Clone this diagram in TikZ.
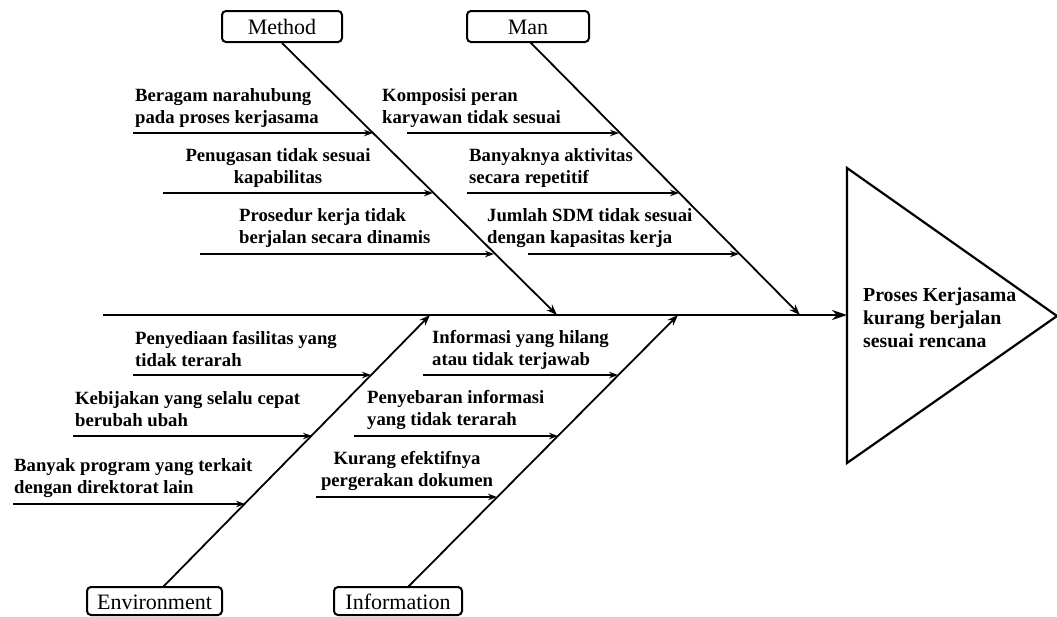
\documentclass[tikz,border=0pt]{standalone}
\usepackage{fontspec}
\setmainfont{Liberation Serif}
\usetikzlibrary{arrows.meta}
\begin{document}
\begin{tikzpicture}[x=1pt,y=-1pt,
  catbox/.style={draw,line width=2pt,rounded corners=4pt,inner sep=0pt,text height=16.5pt,text depth=0pt,font=\fontsize{22}{24}\selectfont},
  cause/.style={inner sep=0pt,font=\fontsize{18.7}{22}\selectfont\bfseries},
  bone/.style={line width=1.8pt,-{Stealth[length=11pt,width=8pt]}},
  twig/.style={line width=1.3pt,-{Stealth[length=9pt,width=6.5pt]}},
  spine/.style={line width=2.8pt,-{Stealth[length=15pt,width=10pt]}}]
\useasboundingbox (0,0) rectangle (1057,616);
% category boxes
\node[catbox,minimum width=120pt,minimum height=31pt] (method) at (282,26.5) {Method};
\node[catbox,minimum width=122pt,minimum height=31pt] (man) at (528,26.5) {Man};
\node[catbox,minimum width=135pt,minimum height=28pt] (env) at (154.5,601) {Environment};
\node[catbox,minimum width=128pt,minimum height=28pt] (info) at (398,601) {Information};
% effect triangle
\coordinate (tl) at (847,168);
\coordinate (tb) at (847,463);
\coordinate (tw) at (847,315);
\coordinate (ta) at (1057,316);
\draw[line width=2.2pt,line join=miter] (tl) -- (ta) -- (tb) -- cycle;
\node[cause,anchor=west,align=left,font=\fontsize{19.8}{23}\selectfont\bfseries] (effect) at (863,318)
  {Proses Kerjasama\\kurang berjalan\\sesuai rencana};
% spine
\coordinate (tail) at (103,315);
\draw[spine] (tail) -- (tw);
% spine junctions
\coordinate (jm) at (557,315);
\coordinate (jn) at (800,315);
\coordinate (je) at (430,315);
\coordinate (ji) at (678,315);
\coordinate (mantop) at (530,42);
\coordinate (envtop) at (163,587);
\coordinate (infotop) at (408,587);
\draw[bone] (method.south) -- (jm);
\draw[bone] (mantop) -- (jn);
\draw[bone] (envtop) -- (je);
\draw[bone] (infotop) -- (ji);
% Method causes
\node[cause,anchor=west,align=left] (m1) at (135,108) {Beragam narahubung\\pada proses kerjasama};
\node[cause,align=center] (m2) at (278,168) {Penugasan tidak sesuai\\kapabilitas};
\node[cause,anchor=west,align=left] (m3) at (239,228) {Prosedur kerja tidak\\berjalan secara dinamis};
\coordinate (m1s) at (133,133); \coordinate (m1e) at (373,133);
\coordinate (m2s) at (163,193); \coordinate (m2e) at (433,193);
\coordinate (m3s) at (200,254); \coordinate (m3e) at (494,254);
\draw[twig] (m1s) -- (m1e);
\draw[twig] (m2s) -- (m2e);
\draw[twig] (m3s) -- (m3e);
% Man causes
\node[cause,anchor=west,align=left] (n1) at (382,108) {Komposisi peran\\karyawan tidak sesuai};
\node[cause,anchor=west,align=left] (n2) at (469,168) {Banyaknya aktivitas\\secara repetitif};
\node[cause,anchor=west,align=left] (n3) at (487,228) {Jumlah SDM tidak sesuai\\dengan kapasitas kerja};
\coordinate (n1s) at (407,133); \coordinate (n1e) at (619,133);
\coordinate (n2s) at (467,193); \coordinate (n2e) at (679,193);
\coordinate (n3s) at (528,254); \coordinate (n3e) at (739,254);
\draw[twig] (n1s) -- (n1e);
\draw[twig] (n2s) -- (n2e);
\draw[twig] (n3s) -- (n3e);
% Environment causes
\node[cause,anchor=west,align=left] (e1) at (135,349.5) {Penyediaan fasilitas yang\\tidak terarah};
\node[cause,anchor=west,align=left] (e2) at (75,409.5) {Kebijakan yang selalu cepat\\berubah ubah};
\node[cause,anchor=west,align=left] (e3) at (14,478) {Banyak program yang terkait\\dengan direktorat lain};
\coordinate (e1s) at (133,375); \coordinate (e1e) at (371,375);
\coordinate (e2s) at (73,436); \coordinate (e2e) at (312,436);
\coordinate (e3s) at (13,504); \coordinate (e3e) at (245,504);
\draw[twig] (e1s) -- (e1e);
\draw[twig] (e2s) -- (e2e);
\draw[twig] (e3s) -- (e3e);
% Information causes
\node[cause,anchor=west,align=left] (i1) at (432,349.5) {Informasi yang hilang\\atau tidak terjawab};
\node[cause,anchor=west,align=left] (i2) at (367,409.5) {Penyebaran informasi\\yang tidak terarah};
\node[cause,align=center] (i3) at (407,470.5) {Kurang efektifnya\\pergerakan dokumen};
\coordinate (i1s) at (423,375); \coordinate (i1e) at (618,375);
\coordinate (i2s) at (354,436); \coordinate (i2e) at (558,436);
\coordinate (i3s) at (316,497); \coordinate (i3e) at (497,497);
\draw[twig] (i1s) -- (i1e);
\draw[twig] (i2s) -- (i2e);
\draw[twig] (i3s) -- (i3e);
\end{tikzpicture}
\end{document}
